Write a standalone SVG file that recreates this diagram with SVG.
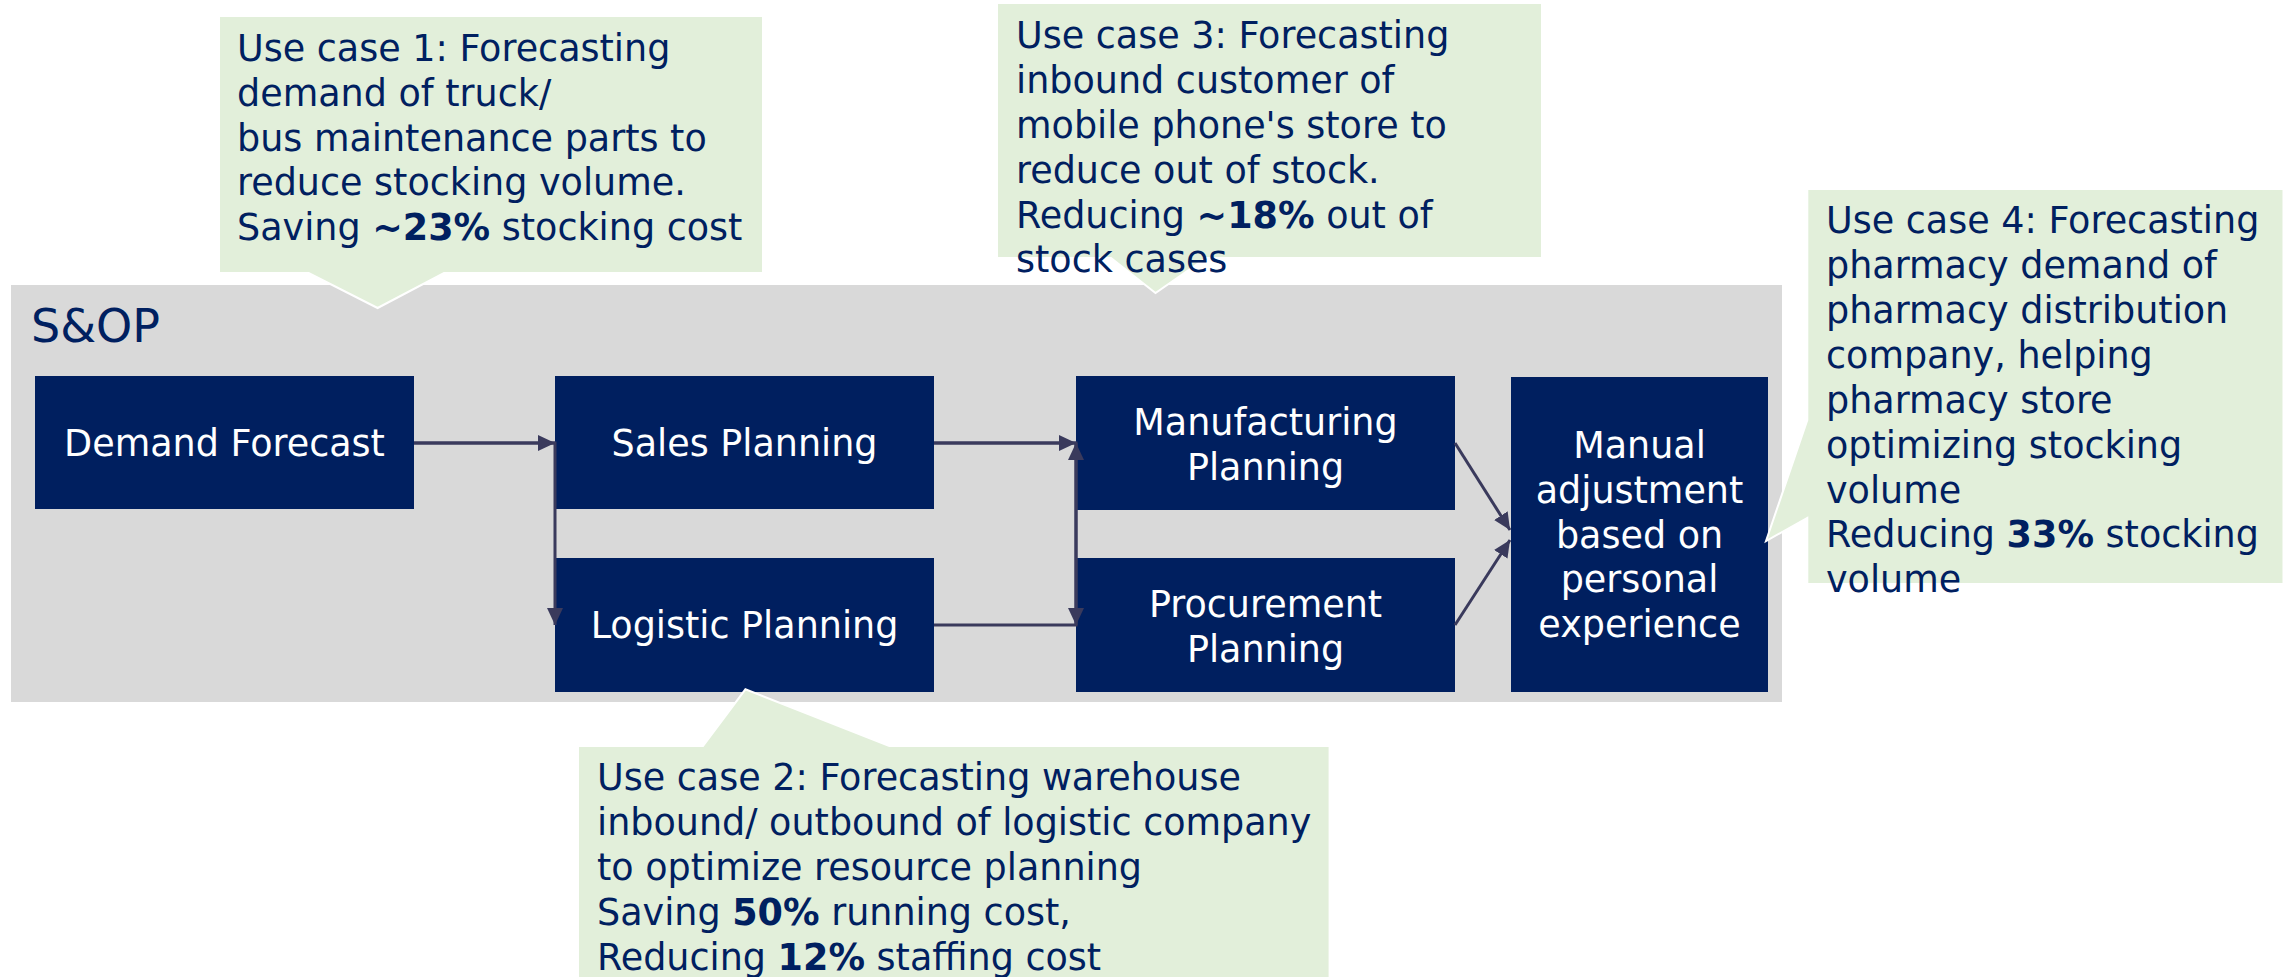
<svg xmlns="http://www.w3.org/2000/svg" width="2295" height="977" viewBox="0 0 2295 977">
<defs>
<style>
.bg{fill:#D9D9D9}
.node{fill:#001F5F}
.nt{font-family:"DejaVu Sans",Verdana,sans-serif;font-size:36.5px;fill:#FFFFFF;text-anchor:middle}
.call{fill:#E2EFDA;stroke:#FFFFFF;stroke-width:2}
.ct{font-family:"DejaVu Sans",Verdana,sans-serif;font-size:36.5px;fill:#002060}
.ct tspan.b{font-weight:bold}
.conn{fill:none;stroke:#3A3A5C;stroke-width:3;marker-end:url(#ah)}
</style>
<marker id="ah" markerUnits="userSpaceOnUse" markerWidth="20" markerHeight="18" refX="17" refY="8" orient="auto">
<path d="M0,0 L17,8 L0,16 Z" fill="#3A3A5C"/>
</marker>
</defs>
<rect width="2295" height="977" fill="#FFFFFF"/>
<g id="sop">
<rect class="bg" x="11" y="285" width="1771" height="417"/>
<text x="31" y="342" font-family="DejaVu Sans,Verdana,sans-serif" font-size="46" fill="#002060">S&amp;OP</text>
</g>
<g id="demand-forecast">
<rect class="node" x="35" y="376" width="379" height="133"/>
<text class="nt" x="224.5" y="456">Demand Forecast</text>
</g>
<g id="sales-planning">
<rect class="node" x="555" y="376" width="379" height="133"/>
<text class="nt" x="744.5" y="456">Sales Planning</text>
</g>
<g id="logistic-planning">
<rect class="node" x="555" y="558" width="379" height="134"/>
<text class="nt" x="744.5" y="638">Logistic Planning</text>
</g>
<g id="manufacturing-planning">
<rect class="node" x="1076" y="376" width="379" height="134"/>
<text class="nt" x="1265.5" y="435">Manufacturing</text>
<text class="nt" x="1265.5" y="480">Planning</text>
</g>
<g id="procurement-planning">
<rect class="node" x="1076" y="558" width="379" height="134"/>
<text class="nt" x="1265.5" y="617">Procurement</text>
<text class="nt" x="1265.5" y="662">Planning</text>
</g>
<g id="manual-adjustment">
<rect class="node" x="1511" y="377" width="257" height="315"/>
<text class="nt" x="1639.5" y="458">Manual</text>
<text class="nt" x="1639.5" y="503">adjustment</text>
<text class="nt" x="1639.5" y="548">based on</text>
<text class="nt" x="1639.5" y="592">personal</text>
<text class="nt" x="1639.5" y="637">experience</text>
</g>
<g id="connectors">
<path class="conn" d="M414,443 H555"/>
<path class="conn" d="M414,443 H555 V625"/>
<path class="conn" d="M934,443 H1076"/>
<path class="conn" d="M934,443 H1076 V625"/>
<path class="conn" d="M934,625 H1076 V443"/>
<path class="conn" d="M1455,443 L1510,530"/>
<path class="conn" d="M1455,625 L1510,540"/>
</g>
<g id="use-case-1">
<path class="call" d="M219,16 H763 V273 H444 L377.6,308 L308.7,273 H219 Z"/>
<text class="ct" x="237" y="61">Use case 1: Forecasting</text>
<text class="ct" x="237" y="106">demand of truck/</text>
<text class="ct" x="237" y="150.7">bus maintenance parts to</text>
<text class="ct" x="237" y="195">reduce stocking volume.</text>
<text class="ct" x="237" y="240">Saving <tspan class="b">~23%</tspan> stocking cost</text>
</g>
<g id="use-case-3">
<path class="call" d="M997,3 H1542 V258 H1206 L1155.5,293 L1111,258 H997 Z"/>
<text class="ct" x="1016" y="48">Use case 3: Forecasting</text>
<text class="ct" x="1016" y="93">inbound customer of</text>
<text class="ct" x="1016" y="138">mobile phone's store to</text>
<text class="ct" x="1016" y="183">reduce out of stock.</text>
<text class="ct" x="1016" y="228">Reducing <tspan class="b">~18%</tspan> out of</text>
<text class="ct" x="1016" y="272">stock cases</text>
</g>
<g id="use-case-2">
<path class="call" d="M578,746 H703 L745.4,689.3 L889.3,746 H1329.6 V990 H578 Z"/>
<text class="ct" x="597" y="790">Use case 2: Forecasting warehouse</text>
<text class="ct" x="597" y="835">inbound/ outbound of logistic company</text>
<text class="ct" x="597" y="880">to optimize resource planning</text>
<text class="ct" x="597" y="925">Saving <tspan class="b">50%</tspan> running cost,</text>
<text class="ct" x="597" y="970">Reducing <tspan class="b">12%</tspan> staffing cost</text>
</g>
<g id="use-case-4">
<path class="call" d="M1807.3,189 H2283.5 V584 H1807.3 V518 L1766,541 L1807.3,420 Z"/>
<text class="ct" x="1826" y="233">Use case 4: Forecasting</text>
<text class="ct" x="1826" y="278">pharmacy demand of</text>
<text class="ct" x="1826" y="323">pharmacy distribution</text>
<text class="ct" x="1826" y="368">company, helping</text>
<text class="ct" x="1826" y="413">pharmacy store</text>
<text class="ct" x="1826" y="458">optimizing stocking</text>
<text class="ct" x="1826" y="503">volume</text>
<text class="ct" x="1826" y="547">Reducing <tspan class="b">33%</tspan> stocking</text>
<text class="ct" x="1826" y="592">volume</text>
</g>
</svg>
